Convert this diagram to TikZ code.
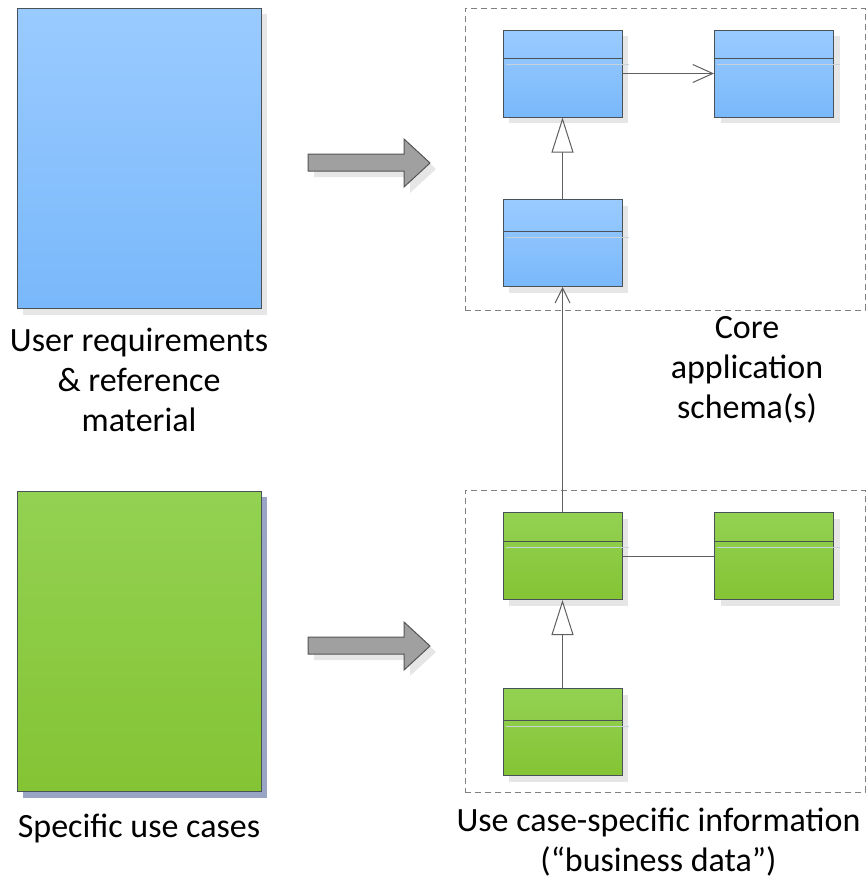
\documentclass[tikz,border=0pt]{standalone}
\usepackage{fontspec}
\setmainfont{Carlito}
\usetikzlibrary{arrows.meta,shadows,calc}
\tikzset{
  bluefill/.style={top color=blueTop, bottom color=blueBot},
  greenfill/.style={top color=greenTop, bottom color=greenBot},
  bigbox/.style={draw=boxEdge, line width=1pt, minimum width=244pt, minimum height=300pt, inner sep=0pt},
  classbox/.style={draw=boxEdge, line width=1pt, minimum width=119pt, minimum height=87pt, inner sep=0pt,
    general shadow={shadow xshift=6pt, shadow yshift=-6pt, fill=shadowGray}},
  container/.style={draw=dashGray, line width=0.8pt, dash pattern=on 6pt off 4pt, inner sep=0pt},
  conn/.style={draw=lineGray, line width=1pt},
  label/.style={font=\fontsize{34}{40}\selectfont, align=center, text=black, inner sep=0pt},
  fatarrow/.style={fill=arrowGray, draw=arrowEdge, line width=1pt, line join=miter},
}
\definecolor{blueTop}{HTML}{9ACBFF}
\definecolor{blueBot}{HTML}{79B8FB}
\definecolor{greenTop}{HTML}{93D152}
\definecolor{greenBot}{HTML}{84C434}
\definecolor{boxEdge}{HTML}{4A5258}
\definecolor{shadowGray}{HTML}{E6E6E6}
\definecolor{shadowBlue}{HTML}{9AA5C6}
\definecolor{dashGray}{HTML}{808080}
\definecolor{lineGray}{HTML}{5F5F5F}
\definecolor{arrowGray}{HTML}{A0A0A0}
\definecolor{arrowEdge}{HTML}{555555}
\definecolor{hiLine}{HTML}{C8D2DA}
\begin{document}
\begin{tikzpicture}[x=1pt,y=-1pt]
\useasboundingbox (0,0) rectangle (866,879);
% containers
\node[container, minimum width=400pt, minimum height=302pt] (core) at (665,159) {};
\node[container, minimum width=400pt, minimum height=302pt] (usecase) at (665,641) {};
% big boxes with shadows
\fill[shadowGray] (23,14) rectangle (267,315);
\node[bigbox, bluefill] (req) at (139,158) {};
\fill[shadowBlue] (23,497) rectangle (267,798);
\node[bigbox, greenfill] (cases) at (139,641) {};
% fat arrows
\foreach \dy/\nm in {0/a1, 483/a2}{
  \fill[shadowGray, shift={(6,6+\dy)}] (308,154) -- (404,154) -- (404,139) -- (430,163) -- (404,187) -- (404,171) -- (308,171) -- cycle;
  \filldraw[fatarrow, shift={(0,\dy)}] (308,154) -- (404,154) -- (404,139) -- (430,163) -- (404,187) -- (404,171) -- (308,171) -- cycle;
}
% class boxes
\node[classbox, bluefill] (b1) at (562.5,73.5) {};
\node[classbox, bluefill] (b2) at (774,73.5) {};
\node[classbox, bluefill] (b3) at (562.5,243) {};
\node[classbox, greenfill] (b4) at (562.5,556) {};
\node[classbox, greenfill] (b5) at (774,556) {};
\node[classbox, greenfill] (b6) at (562.5,732) {};
% dividers and highlight lines
\foreach \b/\d in {b1/29, b2/29, b3/32, b4/29, b5/29, b6/32}{
  \draw[hiLine, line width=0.8pt] ($(\b.north west)+(3,\d+6)$) -- ($(\b.north east)+(6,\d+6)$);
  \draw[boxEdge, line width=1pt] ($(\b.north west)+(0,\d)$) -- ($(\b.north east)+(0,\d)$);
}
% connectors
\draw[conn, -{Straight Barb[length=20pt, width=18pt, line width=1pt]}] (b1.east) -- (b2.west);
\draw[conn, -{Triangle[open, length=35pt, width=22pt, line width=1pt, fill=white]}] (b3.north) -- (b1.south);
\draw[conn, -{Straight Barb[length=15pt, width=15pt, line width=1pt]}] (b4.north) -- (b3.south);
\draw[conn] (b4.east) -- (b5.west);
\draw[conn, -{Triangle[open, length=35pt, width=22pt, line width=1pt, fill=white]}] (b6.north) -- (b4.south);
% labels
\node[label, anchor=north] (reqlbl) at (139,328) {User requirements\\\& reference\\material};
\node[label, anchor=north] (corelbl) at (747,316) {Core\\application\\schema(s)};
\node[label, anchor=north] (caselbl) at (139,814) {Specific use cases};
\node[label, anchor=north] (uclbl) at (658.5,808) {Use case-specific information\\(“business data”)};
\end{tikzpicture}
\end{document}
